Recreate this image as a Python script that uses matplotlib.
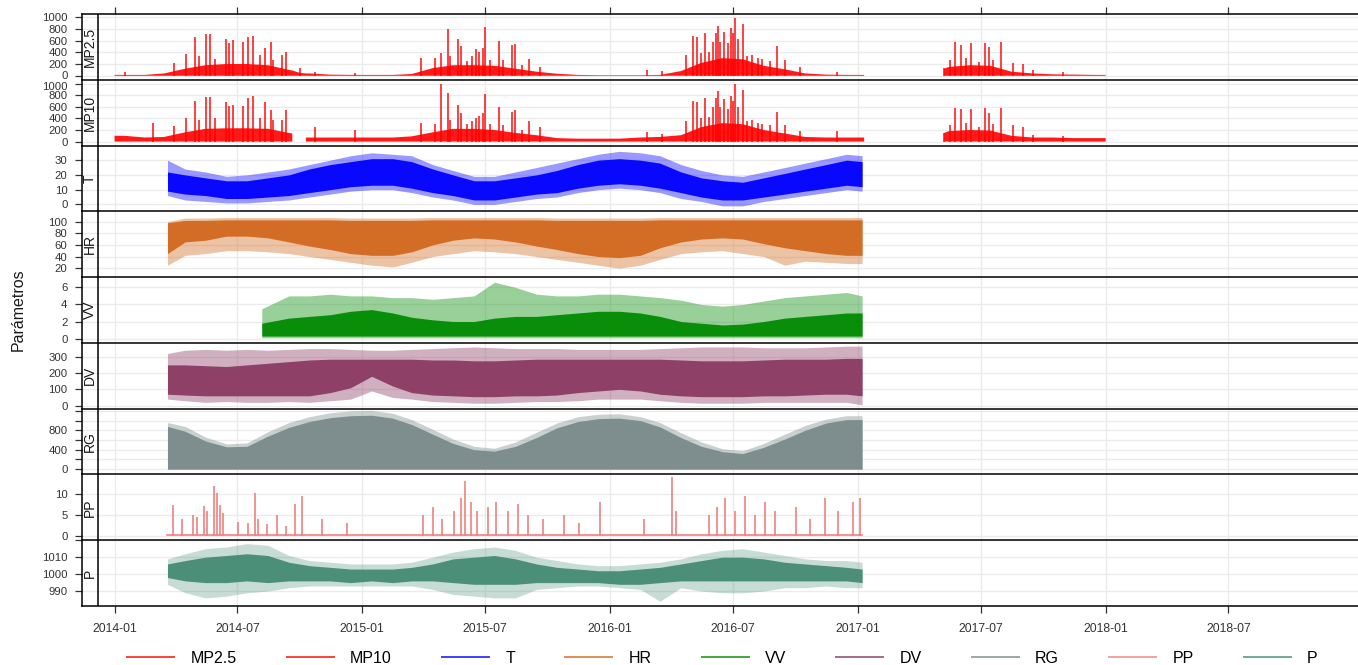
import numpy as np
import pandas as pd
import matplotlib
matplotlib.use("Agg")
import matplotlib.pyplot as plt
import matplotlib.transforms as mtransforms
from matplotlib.lines import Line2D

plt.rcParams['font.family'] = ['Liberation Sans', 'DejaVu Sans']

nan = np.nan

# ---------------- datos ----------------
nombres = ['MP2.5', 'MP10', 'T', 'HR', 'VV', 'DV', 'RG', 'PP', 'P']
colores = ['#FF0000', '#FF0000', '#0000FF', '#D2691E', '#008B00',
           '#8B3A62', '#7A8B8B', '#F08080', '#458B74']

# MP: nivel base (masa densa)
mp_fechas = ['2014-01-01', '2014-01-15', '2014-02-15', '2014-03-15', '2014-04-15', '2014-05-15',
             '2014-06-15', '2014-07-15', '2014-08-15', '2014-09-15', '2014-09-20', '2014-10-01',
             '2014-10-10', '2014-10-15', '2014-11-15', '2014-12-15', '2015-01-15', '2015-02-15',
             '2015-03-15', '2015-04-15', '2015-05-15', '2015-06-15', '2015-07-15', '2015-08-15',
             '2015-09-15', '2015-10-15', '2015-11-15', '2015-12-15', '2016-01-15', '2016-02-15',
             '2016-03-15', '2016-04-15', '2016-05-15', '2016-06-15', '2016-07-15', '2016-08-15',
             '2016-09-15', '2016-10-15', '2016-11-15', '2016-12-15', '2017-01-10', '2017-03-01',
             '2017-05-08', '2017-05-15', '2017-06-15', '2017-07-15', '2017-08-15', '2017-09-15',
             '2017-10-15', '2017-11-15', '2017-12-15', '2018-01-01']
mp25_base = [15, 15, 15, 40, 120, 180, 200, 200, 180, 100, 90, 50,
             40, 40, 20, 15, 15, 15, 30, 130, 180, 180, 170, 120,
             70, 35, 15, 10, 10, 10, 15, 80, 220, 300, 280, 170,
             110, 40, 20, 15, 15, nan, 120, 150, 180, 170, 70, 40,
             25, 20, 15, 15]
mp10_base = [100, 100, 70, 80, 160, 220, 230, 230, 220, 150, 140, nan,
             70, 70, 70, 70, 70, 70, 90, 160, 220, 220, 200, 150,
             110, 60, 50, 50, 50, 70, 80, 110, 250, 320, 300, 200,
             140, 80, 70, 70, 70, nan, 150, 180, 200, 190, 100, 70,
             70, 60, 60, 60]

# MP: picos
picos_fechas = ['2014-01-17', '2014-02-26', '2014-03-30', '2014-04-17', '2014-04-30', '2014-05-06',
                '2014-05-16', '2014-05-22', '2014-05-29', '2014-06-15', '2014-06-18', '2014-06-25',
                '2014-07-10', '2014-07-17', '2014-07-24', '2014-08-04', '2014-08-11', '2014-08-19',
                '2014-08-23', '2014-09-05', '2014-09-11', '2014-10-02', '2014-10-24', '2014-12-22',
                '2015-03-28', '2015-04-19', '2015-04-27', '2015-05-07', '2015-05-10', '2015-05-23',
                '2015-05-27', '2015-06-05', '2015-06-12', '2015-06-18', '2015-06-22', '2015-06-28',
                '2015-07-01', '2015-07-08', '2015-07-22', '2015-07-27', '2015-08-10', '2015-08-15',
                '2015-08-24', '2015-09-04', '2015-09-20', '2016-02-25', '2016-03-18', '2016-04-23',
                '2016-05-02', '2016-05-08', '2016-05-15', '2016-05-21', '2016-05-27', '2016-06-01',
                '2016-06-05', '2016-06-08', '2016-06-12', '2016-06-17', '2016-06-23', '2016-06-27',
                '2016-06-30', '2016-07-03', '2016-07-08', '2016-07-15', '2016-07-22', '2016-07-28',
                '2016-08-06', '2016-08-13', '2016-08-24', '2016-09-04', '2016-09-16', '2016-10-07',
                '2016-12-01', '2017-05-08', '2017-05-17', '2017-05-24', '2017-06-02', '2017-06-09',
                '2017-06-16', '2017-06-28', '2017-07-07', '2017-07-13', '2017-07-19', '2017-07-31',
                '2017-08-17', '2017-09-01', '2017-09-16', '2017-10-30']
mp25_picos = [70, nan, 225, 370, 655, 340, 705, 705, 290, 620, 555, 610,
              580, 655, 680, 355, 480, 580, 270, 355, 410, 130, 60, 40,
              300, 300, 395, 800, 340, 620, 500, 250, 340, 450, 410, 470,
              825, 260, 600, 260, 525, 535, 180, 280, 150, 100, 80, 355,
              680, 665, 385, 725, 400, 580, 735, 850, 580, 750, 560, 810,
              725, 980, 620, 880, 330, 350, 300, 280, 250, 500, 270, 150,
              60, 130, 270, 580, 525, 310, 565, 240, 555, 485, 270, 580,
              220, 200, 100, 60]
mp10_picos = [nan, 320, 265, 400, 710, 380, 770, 770, 400, 680, 610, 640,
              610, 750, 790, 400, 680, 550, 380, 380, 550, nan, 250, 200,
              320, 300, 1000, 840, 380, 640, 500, 300, 350, 400, 450, 500,
              830, 300, 600, 280, 520, 550, 200, 350, 250, 160, 130, 350,
              710, 680, 400, 750, 420, 600, 750, 870, 600, 735, 560, 790,
              700, 1000, 600, 900, 350, 380, 320, 300, 280, 505, 280, 180,
              190, 150, 290, 580, 565, 320, 565, 260, 580, 500, 300, 580,
              290, 250, 120, 100]

# series horarias: envolventes mensuales (max, alto, bajo, min)
t_max = [30, 24, 22, 19, 20, 22, 24, 27, 30, 33,
         35, 34, 33, 27, 23, 19, 19, 22, 25, 28, 31, 34,
         36, 35, 33, 27, 23, 20, 19, 22, 25, 28, 31, 34, 33]
t_alto = [22, 20, 18, 16, 16, 18, 20, 24, 27, 29,
          31, 31, 29, 24, 20, 16, 16, 18, 20, 23, 27, 30,
          31, 30, 28, 22, 18, 16, 15, 18, 21, 24, 27, 30, 29]
t_bajo = [9, 7, 6, 4, 4, 5, 6, 8, 10, 12,
          13, 13, 11, 8, 6, 3, 3, 5, 7, 8, 11, 13,
          14, 13, 11, 8, 5, 3, 3, 5, 7, 9, 11, 13, 12]
t_min = [6, 3, 2, 1, 1, 2, 3, 5, 7, 9,
         10, 10, 8, 5, 3, 0, 0, 2, 4, 5, 8, 10,
         11, 10, 8, 4, 2, -1, -1, 2, 4, 6, 8, 10, 9]

hr_max = [100, 106, 106, 107, 107, 107, 107, 107, 107, 106,
          106, 106, 106, 107, 107, 107, 107, 107, 107, 106, 106, 106,
          106, 106, 107, 107, 107, 107, 107, 107, 107, 107, 107, 107, 107]
hr_alto = [98, 102, 102, 103, 103, 103, 103, 103, 103, 102,
           102, 102, 102, 103, 103, 103, 103, 103, 103, 102, 102, 102,
           102, 102, 103, 103, 103, 103, 103, 103, 103, 103, 103, 103, 103]
hr_bajo = [45, 65, 68, 75, 75, 72, 65, 58, 52, 45,
           42, 42, 48, 60, 68, 72, 70, 65, 58, 52, 45, 40,
           38, 42, 55, 65, 70, 72, 70, 62, 55, 50, 45, 42, 42]
hr_min = [25, 42, 45, 50, 50, 48, 45, 40, 35, 30,
          25, 22, 30, 40, 45, 50, 48, 45, 40, 35, 30, 25,
          20, 25, 35, 45, 48, 50, 45, 40, 25, 32, 30, 28, 28]

vv_max = [3.5, 5.0, 5.0, 5.2, 5.0,
          5.0, 4.8, 4.8, 4.6, 4.8, 5.0, 6.6, 6.0, 5.2, 5.0, 5.0, 5.2,
          5.2, 5.0, 4.8, 4.5, 4.0, 3.8, 4.0, 4.4, 4.8, 5.0, 5.2, 5.4, 5.0]
vv_alto = [1.8, 2.4, 2.6, 2.8, 3.2,
           3.4, 3.0, 2.5, 2.2, 2.0, 2.0, 2.4, 2.6, 2.6, 2.8, 3.0, 3.2,
           3.2, 3.0, 2.6, 2.0, 1.8, 1.6, 1.7, 2.0, 2.4, 2.6, 2.8, 3.0, 3.0]
vv_piso = 0.3

dv_max = [320, 340, 345, 340, 345, 340, 345, 350, 350, 345,
          340, 340, 345, 350, 355, 360, 355, 350, 350, 350, 345, 345,
          345, 345, 350, 355, 360, 360, 360, 355, 355, 355, 360, 365, 365]
dv_alto = [250, 250, 245, 240, 250, 260, 270, 280, 285, 285,
           285, 285, 285, 280, 280, 275, 275, 280, 285, 285, 285, 285,
           285, 285, 285, 280, 275, 275, 275, 280, 285, 285, 285, 290, 290]
dv_bajo = [70, 65, 60, 60, 60, 60, 60, 60, 80, 110,
           180, 120, 80, 65, 60, 55, 55, 60, 60, 65, 80, 90,
           100, 90, 70, 60, 55, 55, 55, 60, 60, 65, 70, 70, 60]
dv_min = [40, 30, 20, 25, 20, 20, 25, 20, 30, 40,
          90, 50, 40, 25, 20, 15, 15, 20, 25, 25, 30, 40,
          40, 40, 30, 20, 15, 15, 15, 20, 20, 20, 20, 20, 5]

rg_max = [960, 880, 660, 520, 540, 770, 960, 1080, 1160, 1200,
          1210, 1150, 1020, 820, 620, 470, 430, 560, 760, 950, 1080, 1130,
          1140, 1080, 960, 750, 560, 420, 380, 530, 720, 900, 1030, 1100, 1100]
rg_alto = [880, 780, 580, 460, 470, 680, 860, 980, 1060, 1100,
           1110, 1050, 920, 720, 530, 400, 370, 470, 650, 850, 980, 1040,
           1050, 1000, 870, 650, 470, 360, 320, 450, 620, 800, 950, 1020, 1020]

p_max = [1009, 1012, 1015, 1016, 1018, 1017, 1011, 1008, 1007, 1006,
         1006, 1006, 1007, 1010, 1013, 1015, 1016, 1014, 1010, 1008, 1006, 1005,
         1005, 1006, 1007, 1009, 1012, 1014, 1015, 1013, 1011, 1009, 1008, 1008, 1007]
p_alto = [1006, 1008, 1010, 1011, 1012, 1011, 1007, 1005, 1004, 1003,
          1003, 1003, 1004, 1006, 1009, 1010, 1011, 1009, 1006, 1004, 1003, 1002,
          1002, 1003, 1004, 1006, 1008, 1010, 1010, 1009, 1007, 1006, 1005, 1004, 1003]
p_bajo = [998, 996, 995, 995, 996, 995, 996, 996, 996, 995,
          996, 995, 996, 996, 995, 994, 994, 994, 995, 995, 995, 995,
          994, 994, 995, 996, 996, 996, 996, 996, 996, 996, 996, 996, 995]
p_min = [994, 989, 986, 987, 989, 990, 992, 993, 993, 993,
         993, 993, 993, 991, 988, 987, 986, 986, 991, 992, 993, 993,
         992, 991, 984, 992, 990, 989, 989, 990, 992, 992, 993, 992, 992]

pp_fechas = ['2014-03-28', '2014-04-11', '2014-04-27', '2014-05-03', '2014-05-13', '2014-05-18',
             '2014-05-27', '2014-06-01', '2014-06-06', '2014-06-10', '2014-07-02', '2014-07-16',
             '2014-07-27', '2014-08-01', '2014-08-14', '2014-08-29', '2014-09-10', '2014-09-24',
             '2014-10-04', '2014-11-03', '2014-12-10', '2015-03-31', '2015-04-15', '2015-04-29',
             '2015-05-17', '2015-05-26', '2015-06-02', '2015-06-10', '2015-06-20', '2015-07-05',
             '2015-07-17', '2015-08-04', '2015-08-19', '2015-09-03', '2015-09-25', '2015-10-25',
             '2015-11-16', '2015-12-17', '2016-02-20', '2016-04-02', '2016-04-08', '2016-05-27',
             '2016-06-07', '2016-06-19', '2016-07-04', '2016-07-18', '2016-08-02', '2016-08-17',
             '2016-09-01', '2016-10-01', '2016-10-22', '2016-11-14', '2016-12-03', '2016-12-25',
             '2017-01-04']
pp_valores = [7.3, 4.1, 4.9, 4.5, 7.1, 6.0, 11.9, 10.1, 7.3, 5.5, 3.3, 3.0,
              10.1, 4.1, 2.8, 4.9, 2.5, 7.7, 9.5, 4.0, 3.0, 5.0, 7.0, 4.0,
              6.0, 9.0, 13.0, 8.0, 6.0, 7.0, 8.0, 6.0, 7.5, 5.0, 4.0, 5.0,
              3.0, 8.0, 4.0, 14.0, 6.0, 5.0, 7.0, 9.0, 6.0, 9.5, 5.0, 8.0,
              6.0, 7.0, 4.0, 9.0, 6.0, 8.0, 9.0]

inicio, fin = '2014-03-20', '2017-01-07'
inicio_vv = '2014-08-06'

ticks_x = pd.date_range('2014-01-01', '2018-07-01', freq='6MS')
y_ticks = [np.arange(0, 1001, 200), np.arange(0, 1001, 200), [0, 10, 20, 30],
           [20, 40, 60, 80, 100], [0, 2, 4, 6], [0, 100, 200, 300],
           np.arange(0, 1201, 200), [0, 5, 10], [990, 1000, 1010, 1020]]
y_lims = [(-68, 1051), (-69, 1069), (-4.7, 39.9), (4.6, 117.6), (-0.5, 7.2),
          (-18.6, 385), (-109, 1245), (-0.96, 14.6), (981.2, 1019.9)]


def meses(primero, ultimo, a, b):
    f = pd.date_range(primero, ultimo, freq='MS') + pd.Timedelta(days=14)
    f = f.to_series().reset_index(drop=True)
    f.iloc[0] = pd.Timestamp(a)
    f.iloc[-1] = pd.Timestamp(b)
    return f


def banda(ax, x, vmax, alto, bajo, vmin, color, a_halo=0.4):
    ax.fill_between(x, vmin, vmax, color=color, alpha=a_halo, lw=0)
    ax.fill_between(x, bajo, alto, color=color, alpha=0.95, lw=0)


def mover(lab, dy):
    # desplaza una etiqueta dy puntos en vertical
    lab.set_transform(lab.get_transform() +
                      mtransforms.ScaledTranslation(0, dy / 72, fig.dpi_scale_trans))


x_m = meses('2014-03-01', '2017-01-01', inicio, fin)
x_vv = meses('2014-08-01', '2017-01-01', inicio_vv, fin)

fig = plt.figure(figsize=(13.58, 6.65), dpi=100)
gs = fig.add_gridspec(9, 1, left=82 / 1358, right=1.0,
                      top=1 - 14 / 665, bottom=1 - 606 / 665, hspace=0)
axs = [fig.add_subplot(gs[i]) for i in range(9)]

# MP2.5 y MP10
xp = pd.to_datetime(mp_fechas)
xs = pd.to_datetime(picos_fechas)
for ax, base, picos in [(axs[0], mp25_base, mp25_picos), (axs[1], mp10_base, mp10_picos)]:
    ax.fill_between(xp, 0, base, color='#FF0000', alpha=0.9, lw=0)
    ax.vlines(xs, 0, picos, color='#FF0000', lw=1.3, alpha=0.8)

banda(axs[2], x_m, t_max, t_alto, t_bajo, t_min, colores[2])
banda(axs[3], x_m, hr_max, hr_alto, hr_bajo, hr_min, colores[3])
banda(axs[4], x_vv, vv_max, vv_alto, vv_piso, 0.1, colores[4])
banda(axs[5], x_m, dv_max, dv_alto, dv_bajo, dv_min, colores[5])
banda(axs[6], x_m, rg_max, rg_alto, 0, 0, colores[6])
axs[7].plot(pd.to_datetime([inicio, fin]), [0.2, 0.2], color=colores[7], lw=1.2)
axs[7].vlines(pd.to_datetime(pp_fechas), 0, pp_valores, color=colores[7], lw=1.2)
banda(axs[8], x_m, p_max, p_alto, p_bajo, p_min, colores[8], a_halo=0.3)

x_izq, x_der = pd.Timestamp('2013-11-14'), pd.Timestamp('2019-01-08')
for i, ax in enumerate(axs):
    ax.set_xlim(x_izq, x_der)
    ax.set_ylim(*y_lims[i])
    ax.set_xticks(ticks_x)
    ax.set_yticks(y_ticks[i])
    ax.grid(True, color='#EBEBEB', lw=1.0)
    ax.set_axisbelow(True)
    ax.spines['right'].set_visible(False)
    ax.spines['bottom'].set_visible(False)
    ax.spines['top'].set_linewidth(1.1)
    ax.spines['left'].set_linewidth(1.1)
    ax.tick_params(axis='x', bottom=False, labelbottom=False)
    ax.tick_params(axis='y', length=5, width=0.9, color='#333333',
                   labelsize=8.2, labelcolor='#333333', pad=5.5)
    ax.axvline(pd.Timestamp('2013-12-08'), color='black', lw=1.1)
    ax.text(0.0063, 0.5, nombres[i], rotation=90, transform=ax.transAxes,
            ha='center', va='center', fontsize=10, color='#1A1A1A')

# solo algunas etiquetas en RG y P
axs[6].set_yticklabels(['0', '', '400', '', '800', '', ''])
axs[8].set_yticklabels(['990', '1000', '1010', ''])

# separar un poco el "0" de MP2.5 y el "1000" de MP10
mover(axs[0].get_yticklabels()[0], 0.9)
mover(axs[1].get_yticklabels()[-1], -1.5)

axs[0].tick_params(axis='x', top=True, length=5, width=0.9, color='#333333')
axs[-1].spines['bottom'].set_visible(True)
axs[-1].spines['bottom'].set_linewidth(1.1)
axs[-1].tick_params(axis='x', bottom=True, labelbottom=True, length=5, width=0.9,
                    color='#333333', labelsize=8.8, labelcolor='#333333', pad=7.5)
axs[-1].set_xticklabels([d.strftime('%Y-%m') for d in ticks_x])

fig.text(0.0135, 0.534, 'Parámetros', rotation=90, ha='center', va='center',
         fontsize=11.5, color='#1A1A1A')

handles = [Line2D([], [], color=c, lw=1.4, alpha=0.75) for c in colores]
fig.legend(handles, nombres, loc='center', bbox_to_anchor=(0.532, 0.0105), ncol=9,
           frameon=False, fontsize=11.5, handlelength=2.95, handletextpad=1.0,
           columnspacing=3.15)

fig.savefig('out.png', dpi=100)
